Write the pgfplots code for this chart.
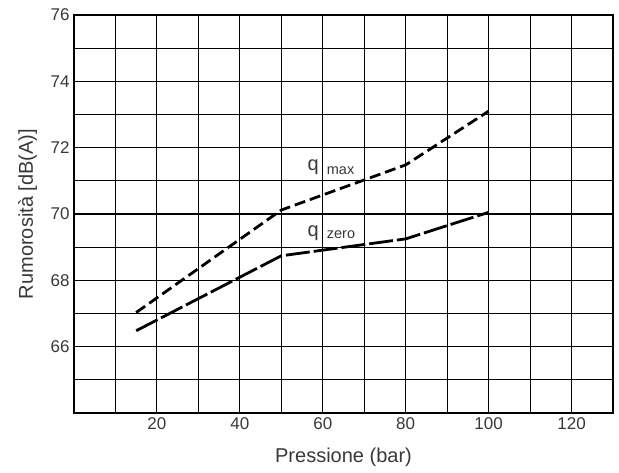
\documentclass[border=0pt]{standalone}
\usepackage{pgfplots}
\pgfplotsset{compat=1.18}
\usepackage{fontspec}
\setmainfont{Liberation Sans}
\definecolor{txt}{gray}{0.22}
\begin{document}
\begin{tikzpicture}
\useasboundingbox (-74pt,-60pt) rectangle (545pt,413pt);
\begin{axis}[
  at={(0,0)}, anchor=south west,
  scale only axis,
  width=539pt, height=398pt,
  xmin=0, xmax=130, ymin=64, ymax=76,
  xtick={20,40,...,120},
  ytick={66,68,...,76},
  minor xtick={10,30,...,130},
  minor ytick={65,67,...,75},
  grid=both,
  major grid style={black, line width=1.1pt},
  minor grid style={black, line width=1.1pt},
  axis line style={black, line width=1.1pt},
  tick style={draw=none},
  /pgf/number format/assume math mode=true,
  ticklabel style={font=\fontsize{17}{19}\selectfont, text=txt},
  xticklabel style={yshift=-1pt},
  yticklabel style={xshift=-1pt},
  clip=false,
]
\addplot[black, line width=2.8pt, dash pattern=on 11pt off 5pt] coordinates {
  (15,67.03) (50,70.12) (80,71.48) (100,73.1)};
\addplot[black, line width=2.8pt, dash pattern=on 24pt off 4pt] coordinates {
  (15,66.48) (50,68.74) (80,69.25) (100,70.05)};
\node[anchor=base east, text=txt, font=\fontsize{20}{22}\selectfont, inner sep=0pt] at (axis cs:59.1,71.30) {q};
\node[anchor=base west, text=txt, font=\fontsize{14.5}{16}\selectfont, inner sep=0pt] at (axis cs:60.95,71.18) {max};
\node[anchor=base east, text=txt, font=\fontsize{20}{22}\selectfont, inner sep=0pt] at (axis cs:59.1,69.32) {q};
\node[anchor=base west, text=txt, font=\fontsize{14.5}{16}\selectfont, inner sep=0pt] at (axis cs:60.95,69.25) {zero};
\node[anchor=base, text=txt, font=\fontsize{20}{22}\selectfont, inner sep=0pt] at ([yshift=-50pt]rel axis cs:0.5,0) {Pressione (bar)};
\node[anchor=base, rotate=90, text=txt, font=\fontsize{20}{22}\selectfont, inner sep=0pt] at ([xshift=-41pt]rel axis cs:0,0.5) {Rumorosità [dB(A)]};
\end{axis}
\end{tikzpicture}
\end{document}
